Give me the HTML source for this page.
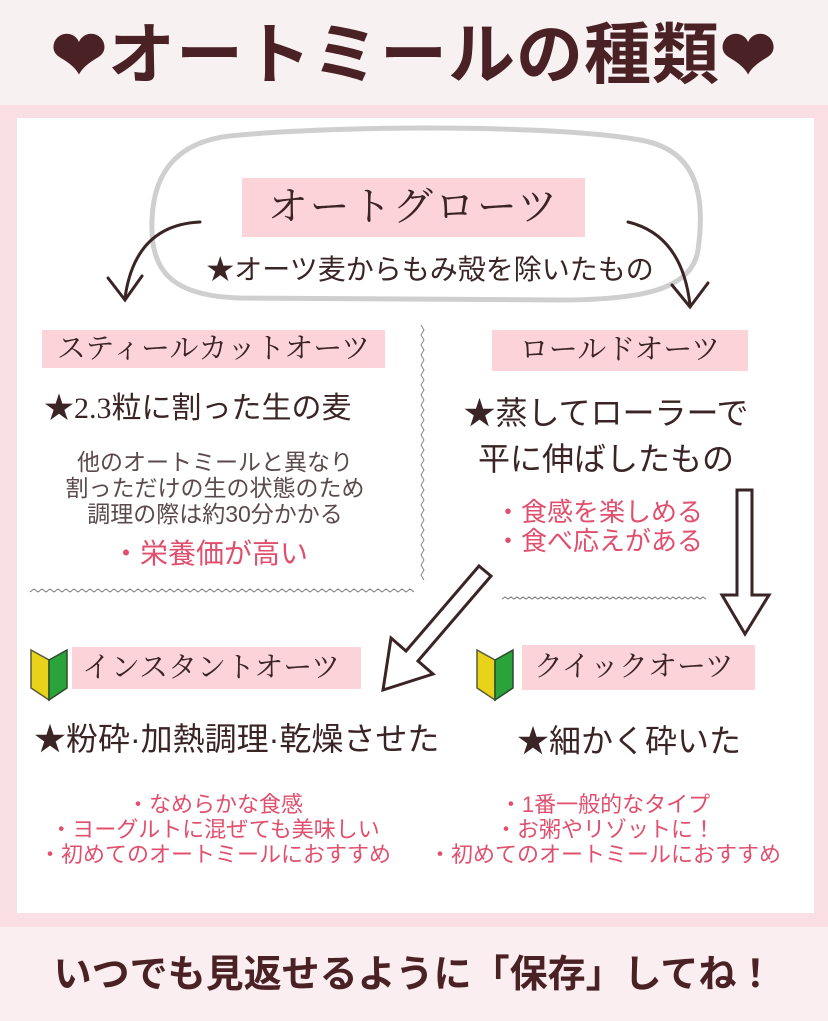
<!DOCTYPE html>
<html><head><meta charset="utf-8"><style>
*{margin:0;padding:0;box-sizing:border-box}
body{width:828px;height:1021px;position:relative;overflow:hidden;background:#f8f1f1;font-family:"Liberation Sans","Noto Sans CJK JP",sans-serif;color:#3a2426}
.a{position:absolute;white-space:nowrap}
.lbl{position:absolute;background:#fcd3d8;font-family:"Liberation Serif","Noto Serif CJK SC",serif;color:#3a2426}
.pk{color:#e0506e}
</style></head><body>
<div class="a" style="left:0;top:0;width:828px;height:105px;background:#f8f1f1"></div>
<div class="a" style="left:0;top:105px;width:828px;height:822px;background:#f9dfe3"></div>
<div class="a" style="left:17px;top:118px;width:797px;height:795px;background:#fff"></div>
<div class="a" style="left:0;top:927px;width:828px;height:94px;background:#fbeef0"></div>

<div class="a" style="left:0;top:9px;width:828px;text-align:center;font-size:67px;font-weight:bold;color:#4a2125;line-height:94px;letter-spacing:1px">❤オートミールの種類❤</div>

<svg class="a" style="left:0;top:0" width="828" height="1021">
<path d="M240,135 C350,125 560,125 640,140 C700,150 705,200 698,250 C692,290 640,300 560,300 L240,298 C170,296 150,270 152,220 C154,160 190,138 240,135 Z" fill="none" stroke="#cfcfcf" stroke-width="5"/>
<g fill="none" stroke="#3a2426" stroke-width="3" stroke-linecap="round">
<path d="M200,222 Q135,225 125,298"/><path d="M108,278 L125,300 L142,276"/>
<path d="M628,222 Q682,235 690,305"/><path d="M672,285 L690,307 L708,283"/>
</g>
<g fill="none" stroke="#888" stroke-width="1">
<path d="M421,325 l3,5 l-3,5 l3,5 l-3,5 l3,5 l-3,5 l3,5 l-3,5 l3,5 l-3,5 l3,5 l-3,5 l3,5 l-3,5 l3,5 l-3,5 l3,5 l-3,5 l3,5 l-3,5 l3,5 l-3,5 l3,5 l-3,5 l3,5 l-3,5 l3,5 l-3,5 l3,5 l-3,5 l3,5 l-3,5 l3,5 l-3,5 l3,5 l-3,5 l3,5 l-3,5 l3,5 l-3,5 l3,5 l-3,5 l3,5 l-3,5 l3,5 l-3,5 l3,5 l-3,5 l3,5 l-3,5 l3,5"/>
</g>
<path d="M30,592 l4,-3 l4,3 l4,-3 l4,3 l4,-3 l4,3 l4,-3 l4,3 l4,-3 l4,3 l4,-3 l4,3 l4,-3 l4,3 l4,-3 l4,3 l4,-3 l4,3 l4,-3 l4,3 l4,-3 l4,3 l4,-3 l4,3 l4,-3 l4,3 l4,-3 l4,3 l4,-3 l4,3 l4,-3 l4,3 l4,-3 l4,3 l4,-3 l4,3 l4,-3 l4,3 l4,-3 l4,3 l4,-3 l4,3 l4,-3 l4,3 l4,-3 l4,3 l4,-3 l4,3 l4,-3 l4,3 l4,-3 l4,3 l4,-3 l4,3 l4,-3 l4,3 l4,-3 l4,3 l4,-3 l4,3 l4,-3 l4,3 l4,-3 l4,3 l4,-3 l4,3 l4,-3 l4,3 l4,-3 l4,3 l4,-3 l4,3 l4,-3 l4,3 l4,-3 l4,3 l4,-3 l4,3 l4,-3 l4,3 l4,-3 l4,3 l4,-3 l4,3 l4,-3 l4,3 l4,-3 l4,3 l4,-3 l4,3 l4,-3 l4,3 l4,-3 l4,3 l4,-3 l4,3" fill="none" stroke="#777" stroke-width="1"/>
<path d="M502,599 l3,-2 l3,2 l3,-2 l3,2 l3,-2 l3,2 l3,-2 l3,2 l3,-2 l3,2 l3,-2 l3,2 l3,-2 l3,2 l3,-2 l3,2 l3,-2 l3,2 l3,-2 l3,2 l3,-2 l3,2 l3,-2 l3,2 l3,-2 l3,2 l3,-2 l3,2 l3,-2 l3,2 l3,-2 l3,2 l3,-2 l3,2 l3,-2 l3,2 l3,-2 l3,2 l3,-2 l3,2 l3,-2 l3,2 l3,-2 l3,2 l3,-2 l3,2 l3,-2 l3,2 l3,-2 l3,2 l3,-2 l3,2 l3,-2 l3,2 l3,-2 l3,2 l3,-2 l3,2 l3,-2 l3,2 l3,-2 l3,2 l3,-2 l3,2 l3,-2 l3,2 l3,-2 l3,2" fill="none" stroke="#777" stroke-width="1"/>
<polygon points="737,490 752,490 752,595 769,595 745,634 722,595 737,595" fill="#fff" stroke="#3a2426" stroke-width="3" stroke-linejoin="miter"/>
<polygon points="479,566 491,576 418,661 433,674 383,690 391,638 406,651" fill="#fff" stroke="#3a2426" stroke-width="3"/>
<g>
<path d="M31,650 L49,660 L49,700 L31,688 Z" fill="#e8d21a" stroke="#5a5a3a" stroke-width="1.5"/>
<path d="M49,660 L67,650 L67,688 L49,700 Z" fill="#2aa33a" stroke="#2e4a2e" stroke-width="1.5"/>
<path d="M477,650 L495,660 L495,700 L477,688 Z" fill="#e8d21a" stroke="#5a5a3a" stroke-width="1.5"/>
<path d="M495,660 L513,650 L513,688 L495,700 Z" fill="#2aa33a" stroke="#2e4a2e" stroke-width="1.5"/>
</g>
</svg>

<div class="lbl" style="left:242px;top:178px;width:343px;height:59px;font-size:40px;line-height:57px;text-align:center;letter-spacing:2px">オートグローツ</div>
<div class="a" style="left:140px;top:253px;width:580px;text-align:center;font-size:28px;line-height:34px">★オーツ麦からもみ殻を除いたもの</div>

<div class="lbl" style="left:42px;top:330px;width:343px;height:38px;font-size:29px;line-height:38px;text-align:center">スティールカットオーツ</div>
<div class="lbl" style="left:492px;top:330px;width:256px;height:41px;font-size:29px;line-height:40px;text-align:center">ロールドオーツ</div>

<div class="a" style="left:44px;top:390px;font-size:30px;line-height:38px">★<span style="font-family:'Liberation Serif',serif">2.3</span>粒に割った生の麦</div>
<div class="a" style="left:30px;top:449px;width:370px;text-align:center;font-size:23px;line-height:26px;color:#5a4a4c">他のオートミールと異なり<br>割っただけの生の状態のため<br>調理の際は約30分かかる</div>
<div class="a pk" style="left:112px;top:536px;font-size:28px;line-height:36px">・栄養価が高い</div>

<div class="a" style="left:436px;top:390px;width:340px;text-align:center;font-size:32px;line-height:46px">★蒸してローラーで<br>平に伸ばしたもの</div>
<div class="a pk" style="left:495px;top:498px;font-size:26px;line-height:29px">・食感を楽しめる<br>・食べ応えがある</div>

<div class="lbl" style="left:72px;top:647px;width:289px;height:42px;font-size:29px;line-height:42px;padding-left:10px">インスタントオーツ</div>
<div class="lbl" style="left:522px;top:645px;width:233px;height:45px;font-size:29px;line-height:44px;padding-left:12px">クイックオーツ</div>

<div class="a" style="left:34px;top:719px;font-size:32px;line-height:40px">★粉砕·加熱調理·乾燥させた</div>
<div class="a" style="left:517px;top:721px;font-size:32px;line-height:40px">★細かく砕いた</div>

<div class="a pk" style="left:15px;top:792px;width:400px;text-align:center;font-size:22px;line-height:25px">・なめらかな食感<br>・ヨーグルトに混ぜても美味しい<br>・初めてのオートミールにおすすめ</div>
<div class="a pk" style="left:405px;top:792px;width:400px;text-align:center;font-size:22px;line-height:25px">・1番一般的なタイプ<br>・お粥やリゾットに！<br>・初めてのオートミールにおすすめ</div>

<div class="a" style="left:0;top:948px;width:828px;text-align:center;font-size:38px;font-weight:bold;color:#4a2125;line-height:54px">いつでも見返せるように「保存」してね！</div>
</body></html>
